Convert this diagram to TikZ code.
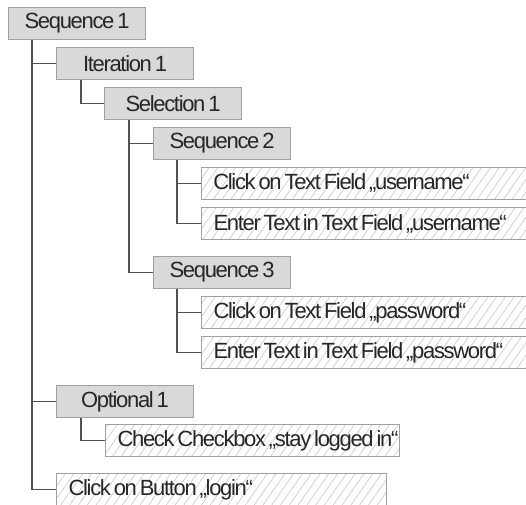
\documentclass[tikz,border=0pt]{standalone}
\usepackage{fontspec}
\setmainfont{Liberation Sans}[LetterSpace=-6,WordSpace=0.6]
\usetikzlibrary{patterns.meta}
\definecolor{boxfill}{HTML}{D9D9D9}
\definecolor{boxline}{HTML}{A0A0A0}
\definecolor{conn}{HTML}{505050}
\definecolor{hatch}{HTML}{C8C8C8}
\begin{document}
\begin{tikzpicture}[x=1pt,y=-1pt,
  txt/.style={font=\fontsize{22}{26}\selectfont, text=black!85},
  graybox/.style={txt, draw=boxline, line width=1.1pt, fill=boxfill, anchor=north west,
    minimum width=137pt, minimum height=32pt, inner sep=0pt},
  hatchbox/.style={txt, draw=boxline, line width=1.1pt, anchor=north west,
    pattern={Lines[angle=55,distance=7.2pt,line width=0.6pt]}, pattern color=hatch,
    minimum height=32pt, inner xsep=12pt, inner ysep=0pt},
  link/.style={draw=conn, line width=1.3pt}]
\clip (0,0) rectangle (526,504);
\fill[white] (0,0) rectangle (526,504);
\node[graybox] (seq1) at (8,7) {Sequence 1};
\node[graybox] (iter1) at (56,47) {Iteration 1};
\node[graybox] (sel1) at (104,87) {Selection 1};
\node[graybox] (seq2) at (153,127) {Sequence 2};
\node[hatchbox] (clku) at (201,167) {\makebox[320pt][l]{Click on Text Field „username“}};
\node[hatchbox] (entu) at (201,207) {\makebox[320pt][l]{Enter Text in Text Field „username“}};
\node[graybox] (seq3) at (153,256) {Sequence 3};
\node[hatchbox] (clkp) at (201,296) {\makebox[320pt][l]{Click on Text Field „password“}};
\node[hatchbox] (entp) at (201,336) {\makebox[320pt][l]{Enter Text in Text Field „password“}};
\node[graybox] (opt1) at (56,385) {Optional 1};
\node[hatchbox] (chk) at (105,424) {\makebox[270pt][l]{Check Checkbox „stay logged in“}};
\node[hatchbox] (login) at (56,473) {\makebox[306pt][l]{Click on Button „login“}};
\coordinate (t1) at ([xshift=24pt]seq1.south west);
\coordinate (t2) at ([xshift=25pt]iter1.south west);
\coordinate (t3) at ([xshift=25pt]sel1.south west);
\coordinate (t4) at ([xshift=24pt]seq2.south west);
\coordinate (t5) at ([xshift=24pt]seq3.south west);
\coordinate (t6) at ([xshift=25pt]opt1.south west);
\draw[link] (t1) |- (login.west);
\draw[link] (t1 |- iter1.west) -- (iter1.west);
\draw[link] (t1 |- opt1.west) -- (opt1.west);
\draw[link] (t2) |- (sel1.west);
\draw[link] (t3) |- (seq3.west);
\draw[link] (t3 |- seq2.west) -- (seq2.west);
\draw[link] (t4) |- (entu.west);
\draw[link] (t4 |- clku.west) -- (clku.west);
\draw[link] (t5) |- (entp.west);
\draw[link] (t5 |- clkp.west) -- (clkp.west);
\draw[link] (t6) |- (chk.west);
\end{tikzpicture}
\end{document}
